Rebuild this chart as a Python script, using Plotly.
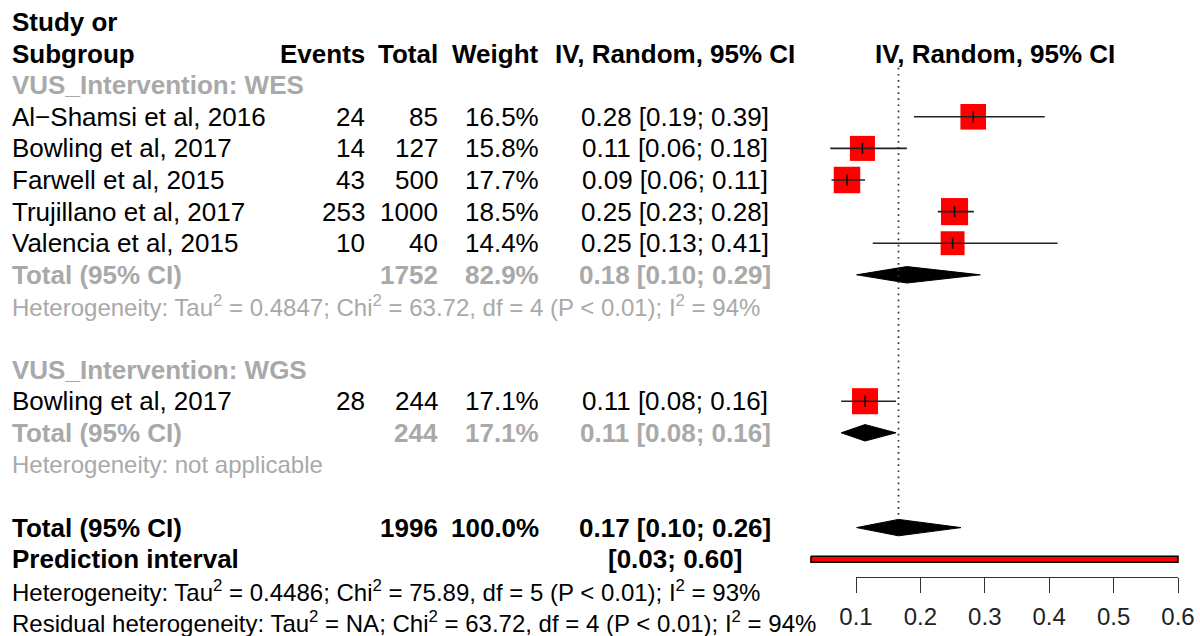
import plotly.graph_objects as go

# ---------------- data ----------------
wes_studies = ["Al\u2212Shamsi et al, 2016", "Bowling et al, 2017", "Farwell et al, 2015",
               "Trujillano et al, 2017", "Valencia et al, 2015"]
wes_events = [24, 14, 43, 253, 10]
wes_total = [85, 127, 500, 1000, 40]
wes_weight = [16.5, 15.8, 17.7, 18.5, 14.4]
wes_est = [0.282, 0.110, 0.086, 0.253, 0.250]
wes_lo = [0.190, 0.060, 0.062, 0.227, 0.126]
wes_hi = [0.393, 0.179, 0.114, 0.283, 0.413]

wgs_studies = ["Bowling et al, 2017"]
wgs_events = [28]
wgs_total = [244]
wgs_weight = [17.1]
wgs_est = [0.114]
wgs_lo = [0.077]
wgs_hi = [0.162]

sub_names = ["VUS_Intervention: WES", "VUS_Intervention: WGS"]
sub_total_n = [1752, 244]
sub_weight = [82.9, 17.1]
sub_est = [0.179, 0.114]
sub_lo = [0.101, 0.077]
sub_hi = [0.293, 0.162]
sub_het = ["Heterogeneity: Tau<sup>2</sup> = 0.4847; Chi<sup>2</sup> = 63.72, df = 4 (P < 0.01); I<sup>2</sup> = 94%",
           "Heterogeneity: not applicable"]

overall_n = 1996
overall_weight = 100.0
overall_est = 0.166
overall_lo = 0.101
overall_hi = 0.263
pred_lo = 0.03
pred_hi = 0.60
overall_het = "Heterogeneity: Tau<sup>2</sup> = 0.4486; Chi<sup>2</sup> = 75.89, df = 5 (P < 0.01); I<sup>2</sup> = 93%"
resid_het = "Residual heterogeneity: Tau<sup>2</sup> = NA; Chi<sup>2</sup> = 63.72, df = 4 (P < 0.01); I<sup>2</sup> = 94%"

tick_vals = [0.1, 0.2, 0.3, 0.4, 0.5, 0.6]
tick_text = ["0.1", "0.2", "0.3", "0.4", "0.5", "0.6"]

# ---------------- layout constants ----------------
W, H = 1200, 636
ROW0_PX, ROW_PX = 22.0, 31.6
FONT = "Liberation Sans, Arial, sans-serif"
GRAY = "#A9A9A9"
FS = 26
FS_HET = 24

X_STUDY, X_EVENTS, X_TOTAL, X_WEIGHT, X_CI, X_PLOTHEAD = 11, 366, 439, 540, 675, 995

fig = go.Figure()
ann = []


def T(px, row, text, anchor="left", bold=False, color="black", size=FS):
    if bold:
        text = "<b>" + text + "</b>"
    ann.append(dict(x=px / W, xref="paper", y=row, yref="y", text=text, showarrow=False,
                    xanchor=anchor, yanchor="middle", borderpad=0,
                    font=dict(family=FONT, size=size, color=color)))


def ci_txt(e, l, h):
    return f"{e:.2f} [{l:.2f}; {h:.2f}]"


# header
T(X_STUDY, 0, "Study or", bold=True)
T(X_STUDY, 1, "Subgroup", bold=True)
T(X_EVENTS, 1, "Events", "right", bold=True)
T(X_TOTAL, 1, "Total", "right", bold=True)
T(X_WEIGHT, 1, "Weight", "right", bold=True)
T(X_CI, 1, "IV, Random, 95% CI", "center", bold=True)
T(X_PLOTHEAD, 1, "IV, Random, 95% CI", "center", bold=True)

groups = [
    (wes_studies, wes_events, wes_total, wes_weight, wes_est, wes_lo, wes_hi, 2),
    (wgs_studies, wgs_events, wgs_total, wgs_weight, wgs_est, wgs_lo, wgs_hi, 11),
]

ci_x, ci_y = [], []
sq_x, sq_y, sq_s = [], [], []
dia_half = 0.26

for gi, (names, ev, tot, wt, est, lo, hi, r0) in enumerate(groups):
    T(X_STUDY, r0, sub_names[gi], bold=True, color=GRAY)
    for i in range(len(names)):
        r = r0 + 1 + i
        T(X_STUDY, r, names[i])
        T(X_EVENTS, r, str(ev[i]), "right")
        T(X_TOTAL, r, str(tot[i]), "right")
        T(X_WEIGHT, r, f"{wt[i]:.1f}%", "right")
        T(X_CI, r, ci_txt(est[i], lo[i], hi[i]), "center")
        ci_x += [lo[i], hi[i], None]
        ci_y += [r, r, None]
        sq_x.append(est[i])
        sq_y.append(r)
        sq_s.append(6.3 * wt[i] ** 0.5)
    rt = r0 + 1 + len(names)
    T(X_STUDY, rt, "Total (95% CI)", bold=True, color=GRAY)
    T(X_TOTAL, rt, str(sub_total_n[gi]), "right", bold=True, color=GRAY)
    T(X_WEIGHT, rt, f"{sub_weight[gi]:.1f}%", "right", bold=True, color=GRAY)
    T(X_CI, rt, ci_txt(sub_est[gi], sub_lo[gi], sub_hi[gi]), "center", bold=True, color=GRAY)
    T(X_STUDY, rt + 1, sub_het[gi], color=GRAY, size=FS_HET)
    fig.add_trace(go.Scatter(
        x=[sub_lo[gi], sub_est[gi], sub_hi[gi], sub_est[gi], sub_lo[gi]],
        y=[rt, rt - dia_half, rt, rt + dia_half, rt],
        mode="lines", fill="toself", fillcolor="black", line=dict(color="black", width=1),
        hoverinfo="skip"))

# overall
R_TOT, R_PRED, R_HET, R_RES = 16, 17, 18, 19
T(X_STUDY, R_TOT, "Total (95% CI)", bold=True)
T(X_TOTAL, R_TOT, str(overall_n), "right", bold=True)
T(X_WEIGHT, R_TOT, f"{overall_weight:.1f}%", "right", bold=True)
T(X_CI, R_TOT, ci_txt(overall_est, overall_lo, overall_hi), "center", bold=True)
T(X_STUDY, R_PRED, "Prediction interval", bold=True)
T(X_CI, R_PRED, f"[{pred_lo:.2f}; {pred_hi:.2f}]", "center", bold=True)
T(X_STUDY, R_HET, overall_het, size=FS_HET)
T(X_STUDY, R_RES, resid_het, size=FS_HET)

fig.add_trace(go.Scatter(
    x=[overall_lo, overall_est, overall_hi, overall_est, overall_lo],
    y=[R_TOT, R_TOT - dia_half, R_TOT, R_TOT + dia_half, R_TOT],
    mode="lines", fill="toself", fillcolor="black", line=dict(color="black", width=1),
    hoverinfo="skip"))

# prediction interval bar
ph = 0.095
fig.add_trace(go.Scatter(
    x=[pred_lo, pred_hi, pred_hi, pred_lo, pred_lo],
    y=[R_PRED - ph, R_PRED - ph, R_PRED + ph, R_PRED + ph, R_PRED - ph],
    mode="lines", fill="toself", fillcolor="#FF0000", line=dict(color="black", width=1.5),
    hoverinfo="skip"))

# reference dotted line at pooled estimate
fig.add_trace(go.Scatter(
    x=[overall_est, overall_est], y=[1.45, 15.65], mode="lines",
    line=dict(color="#333333", width=1.7, dash="1.7px,4.4px"), hoverinfo="skip"))

# squares
fig.add_trace(go.Scatter(
    x=sq_x, y=sq_y, mode="markers",
    marker=dict(symbol="square", size=sq_s, color="#FF0000", opacity=1, line=dict(width=0)),
    hoverinfo="skip"))
# CI lines
fig.add_trace(go.Scatter(x=ci_x, y=ci_y, mode="lines",
                         line=dict(color="#222222", width=1.6), hoverinfo="skip"))
# little vertical ticks at the estimates
fig.add_trace(go.Scatter(
    x=sq_x, y=sq_y, mode="markers",
    marker=dict(symbol="line-ns", size=8, opacity=1, line=dict(color="#111111", width=1.6)),
    hoverinfo="skip"))

# dummy trace for the tick axis
fig.add_trace(go.Scatter(x=[tick_vals[0]], y=[R_TOT], xaxis="x2", yaxis="y", mode="markers",
                         marker=dict(opacity=0), hoverinfo="skip"))

# axis mapping: 0.1 -> 856px, 0.6 -> 1178px
PX_PER_UNIT = (1178 - 856) / 0.5
x_left = 0.1 - (856 - 800) / PX_PER_UNIT
x_right = 0.6 + (1200 - 1178) / PX_PER_UNIT
y_top = -ROW0_PX / ROW_PX
y_bot = (H - ROW0_PX) / ROW_PX

fig.update_layout(
    template="none",
    width=W, height=H, margin=dict(l=0, r=0, t=0, b=0, pad=0, autoexpand=False),
    paper_bgcolor="white", plot_bgcolor="rgba(0,0,0,0)", showlegend=False,
    xaxis=dict(domain=[800 / W, 1], range=[x_left, x_right], visible=False,
               fixedrange=True, automargin=False),
    yaxis=dict(domain=[0, 1], range=[y_bot, y_top], visible=False,
               fixedrange=True, automargin=False),
    xaxis2=dict(domain=[856 / W, 1178 / W], range=[0.1, 0.6], anchor="free",
                position=(H - 577) / H, showline=True, linecolor="#333333", linewidth=1.2,
                ticks="outside", ticklen=15, tickwidth=1.2, tickcolor="#333333",
                tickvals=tick_vals, ticktext=tick_text, showgrid=False, zeroline=False,
                tickfont=dict(family=FONT, size=24, color="#222222"), ticklabelstandoff=3,
                fixedrange=True, automargin=False),
    annotations=ann,
)

fig.write_html("out.html", config={"displayModeBar": False},
               post_script="document.body.style.margin='0';document.body.style.overflow='hidden';")
